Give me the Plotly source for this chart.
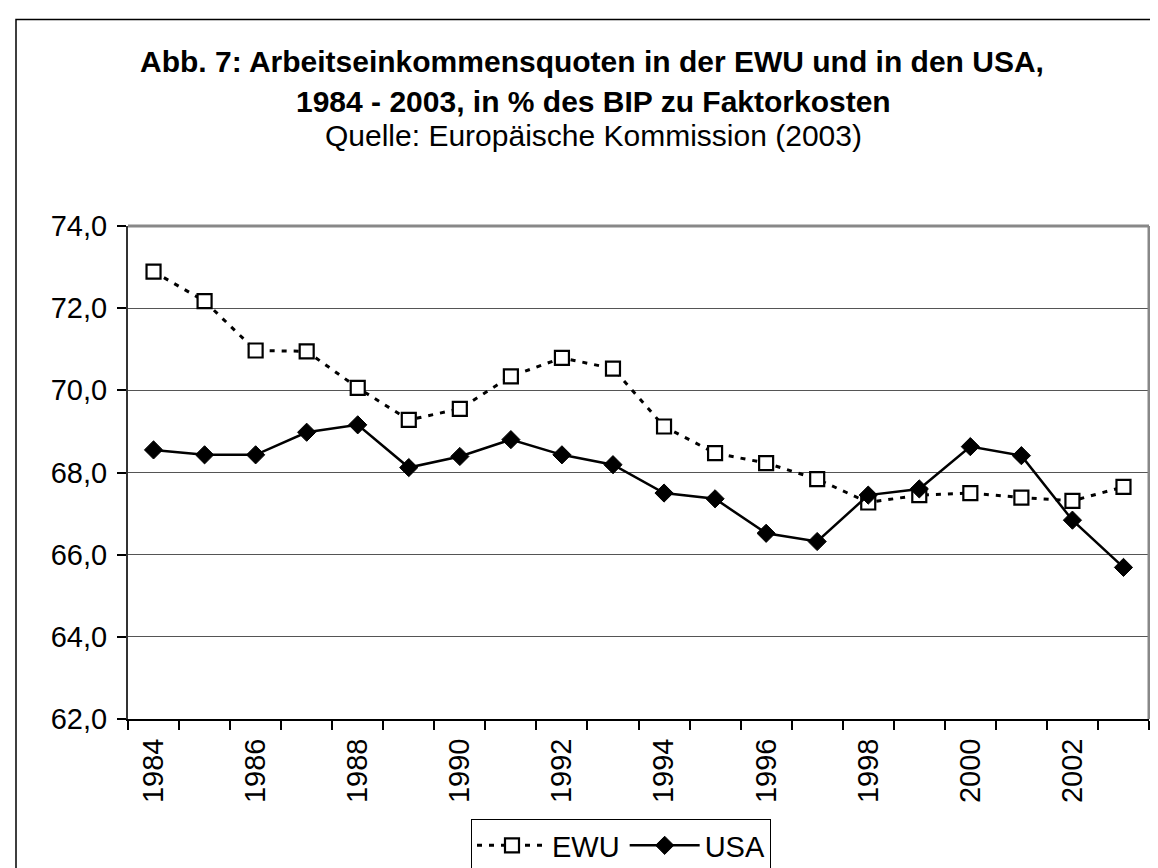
import plotly.graph_objects as go

years = list(range(1984, 2004))
ewu = [72.89, 72.17, 70.97, 70.95, 70.06, 69.28, 69.55, 70.34, 70.79, 70.53,
       69.12, 68.47, 68.23, 67.84, 67.27, 67.45, 67.50, 67.39, 67.31, 67.65]
usa = [68.55, 68.43, 68.43, 68.98, 69.16, 68.12, 68.39, 68.80, 68.43, 68.19,
       67.50, 67.36, 66.52, 66.32, 67.45, 67.60, 68.63, 68.41, 66.84, 65.69]
label_years = list(range(1984, 2003, 2))
y_ticks = [62, 64, 66, 68, 70, 72, 74]

FONT = "Liberation Sans, Arial, sans-serif"

W, H = 1158, 868
L, R, T, B = 120, 1141, 218, 711  # plot area in px
PW, PH = R - L, B - T

def px_x(x):
    return (x - L) / PW

def px_y(y):
    return (B - y) / PH

fig = go.Figure()
fig.add_trace(go.Scatter(
    x=years, y=ewu, name="EWU", mode="lines+markers",
    line=dict(color="black", width=3, dash="5px,7px"),
    marker=dict(symbol="square", size=14, color="white",
                line=dict(color="black", width=2.2)),
))
fig.add_trace(go.Scatter(
    x=years, y=usa, name="USA", mode="lines+markers",
    line=dict(color="black", width=2.5),
    marker=dict(symbol="diamond", size=14, color="black",
                line=dict(color="black", width=1)),
))

fig.update_layout(
    width=W, height=H,
    margin=dict(l=L, r=W - R, t=T, b=H - B, autoexpand=False),
    paper_bgcolor="white", plot_bgcolor="white",
    separators=",.",
    font=dict(family=FONT, color="black", size=29),
    showlegend=True,
    legend=dict(
        orientation="h", x=px_x(613), xanchor="center",
        y=px_y(864), yanchor="bottom",
        bordercolor="black", borderwidth=1, bgcolor="white",
        font=dict(size=29, family=FONT), itemwidth=70,
        tracegroupgap=0,
    ),
    xaxis=dict(
        range=[1983.5, 2003.5], tickmode="array", tickvals=label_years,
        ticktext=[str(y) for y in label_years], tickangle=-90,
        ticks="", showgrid=False, zeroline=False,
        showline=True, linecolor="black", linewidth=2,
        tickfont=dict(size=29, family=FONT), ticklabelstandoff=6,
        minor=dict(tickmode="linear", tick0=1983.5, dtick=1, ticks="outside",
                   ticklen=9, tickcolor="black", tickwidth=1.5, showgrid=False),
    ),
    yaxis=dict(
        range=[62, 74], tickmode="array", tickvals=y_ticks,
        tickformat=".1f", ticks="outside", ticklen=9, tickcolor="black",
        tickwidth=1.5, showline=True, linecolor="#333333", linewidth=2,
        showgrid=True, gridcolor="#555555", gridwidth=1, zeroline=False,
        tickfont=dict(size=29, family=FONT), ticklabelstandoff=4,
    ),
    shapes=[
        dict(type="line", xref="paper", yref="paper", x0=0, x1=1, y0=1, y1=1,
             line=dict(color="#888888", width=3)),
        dict(type="line", xref="paper", yref="paper", x0=1, x1=1, y0=0, y1=1,
             line=dict(color="#888888", width=3)),
        dict(type="rect", xref="paper", yref="paper",
             x0=px_x(8), y0=px_y(900), x1=px_x(1200), y1=px_y(11.5),
             line=dict(color="black", width=1.5), fillcolor="rgba(0,0,0,0)"),
    ],
    annotations=[
        dict(text="<b>Abb. 7: Arbeitseinkommensquoten in der EWU und in den USA,</b>",
             xref="paper", yref="paper", x=px_x(584), y=px_y(54),
             xanchor="center", yanchor="middle", showarrow=False,
             font=dict(size=30, family=FONT)),
        dict(text="<b>1984 - 2003, in % des BIP zu Faktorkosten</b>",
             xref="paper", yref="paper", x=px_x(585), y=px_y(93),
             xanchor="center", yanchor="middle", showarrow=False,
             font=dict(size=30, family=FONT)),
        dict(text="Quelle: Europäische Kommission (2003)",
             xref="paper", yref="paper", x=px_x(585), y=px_y(128),
             xanchor="center", yanchor="middle", showarrow=False,
             font=dict(size=30, family=FONT)),
    ],
)

fig.write_html("out.html")
